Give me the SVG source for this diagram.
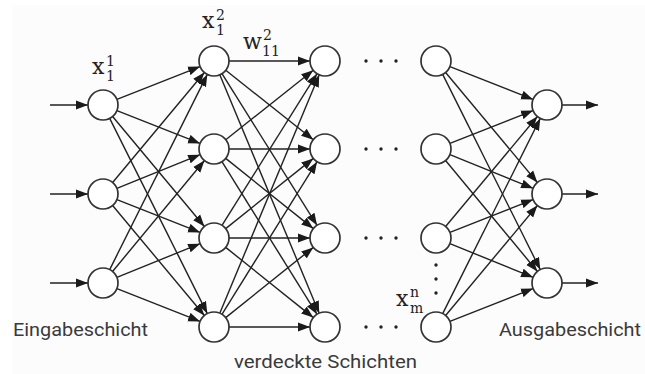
<svg xmlns="http://www.w3.org/2000/svg" width="645" height="374" viewBox="0 0 645 374">
<defs>
<marker id="ah" markerUnits="userSpaceOnUse" markerWidth="12" markerHeight="10" refX="12" refY="5" orient="auto">
<path d="M0,0.5 L12,5 L0,9.5 z" fill="#1a1a1a"/>
</marker>
<style>
.n{fill:#fff;stroke:#333;stroke-width:1.7}
.e line{stroke:#222;stroke-width:1.4;marker-end:url(#ah)}
.m{font-family:"DejaVu Serif","Liberation Serif",serif;fill:#222}
.mx{font-size:22px}
.ms{font-size:14px}
.lbl{font-family:Roboto,"Liberation Sans",sans-serif;font-size:18px;fill:#3a3a3a}
.d{fill:#222}
</style>
</defs>
<rect x="12" y="5" width="633" height="369" fill="#fcfcfc"/>
<g id="connectors" class="e">
<line x1="50" y1="105" x2="88" y2="105"/>
<line x1="50" y1="194" x2="88" y2="194"/>
<line x1="50" y1="283" x2="88" y2="283"/>
<line x1="116.94" y1="99.47" x2="200.06" y2="66.53"/>
<line x1="116.94" y1="110.53" x2="200.06" y2="143.47"/>
<line x1="112.61" y1="116.52" x2="204.39" y2="226.48"/>
<line x1="109.71" y1="118.42" x2="207.29" y2="313.58"/>
<line x1="112.61" y1="182.48" x2="204.39" y2="72.52"/>
<line x1="116.90" y1="188.36" x2="200.10" y2="154.64"/>
<line x1="116.94" y1="199.53" x2="200.06" y2="232.47"/>
<line x1="112.61" y1="205.52" x2="204.39" y2="315.48"/>
<line x1="109.71" y1="269.58" x2="207.29" y2="74.42"/>
<line x1="112.57" y1="271.45" x2="204.43" y2="160.55"/>
<line x1="116.90" y1="277.36" x2="200.10" y2="243.64"/>
<line x1="116.94" y1="288.53" x2="200.06" y2="321.47"/>
<line x1="229" y1="61" x2="310" y2="61"/>
<line x1="225.75" y1="70.32" x2="313.25" y2="139.68"/>
<line x1="221.97" y1="73.71" x2="317.03" y2="225.29"/>
<line x1="219.78" y1="74.84" x2="319.22" y2="313.16"/>
<line x1="225.75" y1="139.68" x2="313.25" y2="70.32"/>
<line x1="229" y1="149" x2="310" y2="149"/>
<line x1="225.70" y1="158.38" x2="313.30" y2="228.62"/>
<line x1="221.94" y1="161.73" x2="317.06" y2="314.27"/>
<line x1="221.97" y1="225.29" x2="317.03" y2="73.71"/>
<line x1="225.70" y1="228.62" x2="313.30" y2="158.38"/>
<line x1="229" y1="238" x2="310" y2="238"/>
<line x1="225.70" y1="247.38" x2="313.30" y2="317.62"/>
<line x1="219.78" y1="313.16" x2="319.22" y2="74.84"/>
<line x1="221.94" y1="314.27" x2="317.06" y2="161.73"/>
<line x1="225.70" y1="317.62" x2="313.30" y2="247.38"/>
<line x1="229" y1="327" x2="310" y2="327"/>
<line x1="449.94" y1="66.53" x2="533.06" y2="99.47"/>
<line x1="445.61" y1="72.52" x2="537.39" y2="182.48"/>
<line x1="442.71" y1="74.42" x2="540.29" y2="269.58"/>
<line x1="449.94" y1="143.47" x2="533.06" y2="110.53"/>
<line x1="449.90" y1="154.64" x2="533.10" y2="188.36"/>
<line x1="445.57" y1="160.55" x2="537.43" y2="271.45"/>
<line x1="445.61" y1="226.48" x2="537.39" y2="116.52"/>
<line x1="449.94" y1="232.47" x2="533.06" y2="199.53"/>
<line x1="449.90" y1="243.64" x2="533.10" y2="277.36"/>
<line x1="442.71" y1="313.58" x2="540.29" y2="118.42"/>
<line x1="445.61" y1="315.48" x2="537.39" y2="205.52"/>
<line x1="449.94" y1="321.47" x2="533.06" y2="288.53"/>
<line x1="562" y1="105" x2="598" y2="105"/>
<line x1="562" y1="194" x2="598" y2="194"/>
<line x1="562" y1="283" x2="598" y2="283"/>
</g>
<g id="input-layer">
<circle id="in1" class="n" cx="103" cy="105" r="15"/>
<circle id="in2" class="n" cx="103" cy="194" r="15"/>
<circle id="in3" class="n" cx="103" cy="283" r="15"/>
</g>
<g id="hidden-1">
<circle class="n" cx="214" cy="61" r="15"/>
<circle class="n" cx="214" cy="149" r="15"/>
<circle class="n" cx="214" cy="238" r="15"/>
<circle class="n" cx="214" cy="327" r="15"/>
</g>
<g id="hidden-2">
<circle class="n" cx="325" cy="61" r="15"/>
<circle class="n" cx="325" cy="149" r="15"/>
<circle class="n" cx="325" cy="238" r="15"/>
<circle class="n" cx="325" cy="327" r="15"/>
</g>
<g id="hidden-n">
<circle class="n" cx="436" cy="61" r="15"/>
<circle class="n" cx="436" cy="149" r="15"/>
<circle class="n" cx="436" cy="238" r="15"/>
<circle class="n" cx="436" cy="327" r="15"/>
</g>
<g id="output-layer">
<circle class="n" cx="547" cy="105" r="15"/>
<circle class="n" cx="547" cy="194" r="15"/>
<circle class="n" cx="547" cy="283" r="15"/>
</g>
<g id="dots" class="d">
<circle cx="366" cy="61" r="1.7"/><circle cx="381" cy="61" r="1.7"/><circle cx="396" cy="61" r="1.7"/>
<circle cx="366" cy="149" r="1.7"/><circle cx="381" cy="149" r="1.7"/><circle cx="396" cy="149" r="1.7"/>
<circle cx="366" cy="238" r="1.7"/><circle cx="381" cy="238" r="1.7"/><circle cx="396" cy="238" r="1.7"/>
<circle cx="366" cy="327" r="1.7"/><circle cx="381" cy="327" r="1.7"/><circle cx="396" cy="327" r="1.7"/>
<circle cx="436" cy="265" r="1.7"/><circle cx="436" cy="279" r="1.7"/><circle cx="436" cy="293" r="1.7"/>
</g>
<g id="math-labels" class="m">
<text class="mx" x="92" y="74">x</text><text class="ms" x="106" y="66">1</text><text class="ms" x="106" y="81">1</text>
<text class="mx" x="202" y="28">x</text><text class="ms" x="216" y="20">2</text><text class="ms" x="216" y="35">1</text>
<text class="mx" x="243" y="49">w</text><text class="ms" x="263" y="40">2</text><text class="ms" x="262" y="56">11</text>
<text class="mx" x="396" y="306">x</text><text class="ms" x="410" y="297">n</text><text class="ms" x="410" y="313">m</text>
</g>
<g id="layer-labels" class="lbl">
<text x="13" y="336" textLength="135" lengthAdjust="spacingAndGlyphs">Eingabeschicht</text>
<text x="234" y="368" textLength="183" lengthAdjust="spacingAndGlyphs">verdeckte Schichten</text>
<text x="499" y="336" textLength="142" lengthAdjust="spacingAndGlyphs">Ausgabeschicht</text>
</g>
</svg>
